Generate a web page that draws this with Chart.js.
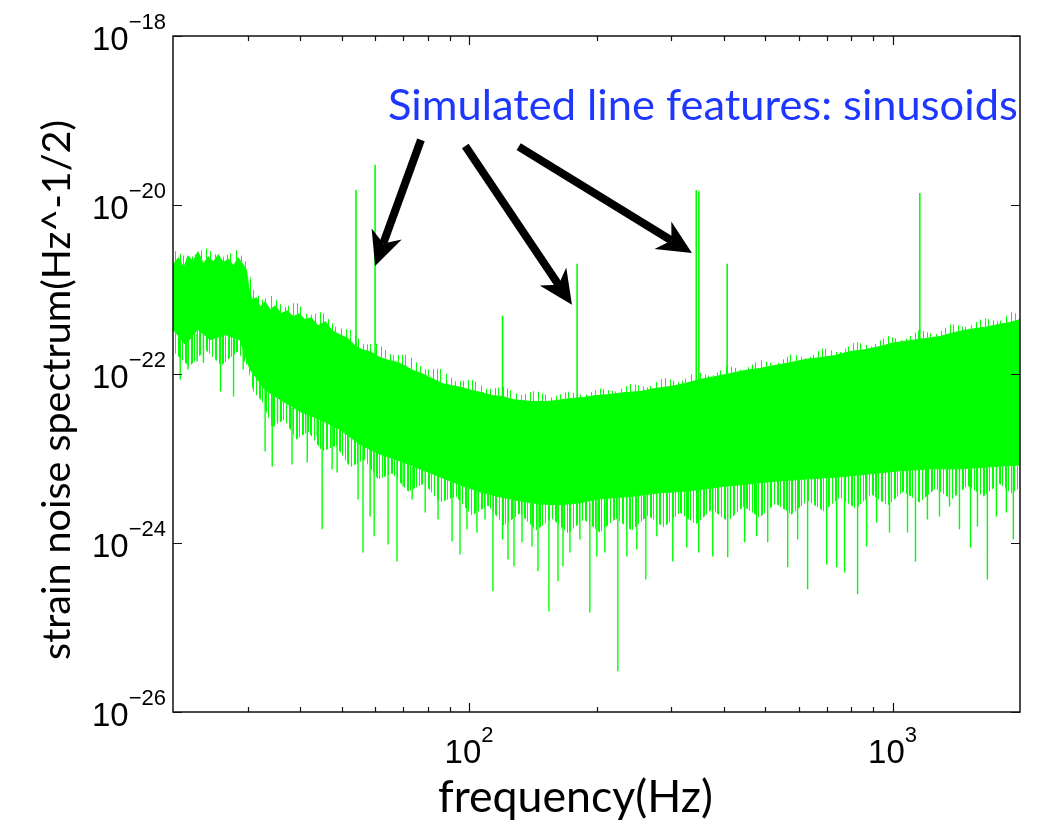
<!DOCTYPE html>
<html>
<head>
<meta charset="utf-8">
<script src="https://cdn.jsdelivr.net/npm/chart.js@4.4.1/dist/chart.umd.min.js"></script>
<style>
html, body { margin: 0; padding: 0; background: #ffffff; }
canvas { display: block; }
</style>
</head>
<body>
<canvas id="spectrumGraph" width="1049" height="822"></canvas>
<script>
// frequency in Hz, strain noise in 1/sqrt(Hz)

// top edge of the noise band
let upperFreqs = [20.0, 20.6, 21.2, 21.7, 22.3, 22.9, 23.6, 24.2, 24.9, 25.6, 26.3, 27.0, 27.8, 28.5, 29.3, 29.8, 30.3, 30.8, 31.5, 32.1,
    33.0, 33.9, 34.9, 36.0, 37.2, 38.5, 39.7, 41.0, 42.4, 44.0, 45.8, 47.5, 49.6, 51.8, 53.8, 55.9, 58.4, 61.0, 63.7, 66.9,
    70.3, 73.8, 77.5, 81.8, 86.4, 91.2, 96.3, 101.6, 107.3, 113.3, 120, 126.3, 133.4, 140.8, 151.1, 161.3, 173.1, 185.7, 199.3, 215.1,
    233.3, 253.1, 274.6, 297.9, 323.2, 350.6, 380.4, 412.6, 447.5, 485.6, 526.8, 571.7, 620.2, 672.8, 729.8, 791.8, 859.0, 931.8, 1011, 1097,
    1190, 1291, 1400, 1519, 1648, 1788, 1888, 2000];
let upperValues = [1.96e-21, 2.38e-21, 1.81e-21, 2.51e-21, 2.13e-21, 2.80e-21, 2.02e-21, 2.44e-21, 2.13e-21, 2.58e-21, 2.07e-21, 2.31e-21, 1.91e-21, 2.38e-21, 1.96e-21, 1.71e-21, 9.42e-22, 7.58e-22, 8.0e-22, 6.26e-22,
    7.17e-22, 5.77e-22, 6.43e-22, 5.18e-22, 5.61e-22, 4.77e-22, 5.18e-22, 4.40e-22, 4.64e-22, 3.73e-22, 4.16e-22, 3.26e-22, 2.92e-22, 2.62e-22, 2.17e-22, 1.94e-22, 1.84e-22, 1.61e-22, 1.48e-22, 1.40e-22,
    1.26e-22, 1.10e-22, 1.01e-22, 8.82e-23, 7.70e-23, 7.29e-23, 6.91e-23, 6.36e-23, 6.02e-23, 5.56e-23, 5.41e-23, 4.98e-23, 4.85e-23, 4.72e-23, 4.72e-23, 4.85e-23, 5.12e-23, 5.26e-23, 5.56e-23, 5.71e-23,
    6.02e-23, 6.19e-23, 6.73e-23, 7.09e-23, 7.70e-23, 8.59e-23, 9.30e-23, 1.01e-22, 1.10e-22, 1.16e-22, 1.26e-22, 1.36e-22, 1.48e-22, 1.56e-22, 1.65e-22, 1.84e-22, 1.94e-22, 2.11e-22, 2.35e-22, 2.48e-22,
    2.62e-22, 2.77e-22, 3.10e-22, 3.37e-22, 3.56e-22, 3.87e-22, 4.06e-22, 4.40e-22];

// bottom edge of the dense part of the band
let lowerFreqs = [20.0, 21.4, 22.9, 24.5, 26.6, 28.8, 30.4, 33.0, 35.8, 39.9, 44.5, 49.6, 55.3, 61.7, 68.8, 76.6, 85.4, 95.2, 106.1, 118.3,
    131.9, 147.1, 163.9, 182.7, 203.7, 239.8, 282.2, 332.1, 390.8, 459.9, 541.4, 637.3, 749.9, 882.7, 1039, 1222, 1439, 1692, 2000];
let lowerValues = [3.37e-22, 2.23e-22, 3.37e-22, 2.55e-22, 2.92e-22, 2.55e-22, 1.13e-22, 6.54e-23, 4.98e-23, 3.59e-23, 2.89e-23, 2.20e-23, 1.46e-23, 1.12e-23, 9.37e-24, 7.54e-24, 6.06e-24, 4.88e-24, 4.03e-24, 3.52e-24,
    3.15e-24, 2.90e-24, 2.83e-24, 2.99e-24, 3.33e-24, 3.55e-24, 3.92e-24, 4.14e-24, 4.62e-24, 5.01e-24, 5.44e-24, 5.74e-24, 6.06e-24, 6.58e-24, 7.14e-24, 7.54e-24, 7.54e-24, 7.96e-24, 8.40e-24];

// ragged outer edges: thin fringe below the dense part, sparse hair above the top
let edgeFreqs = [20.0, 21.86, 23.85, 26.01, 28.37, 29.95, 30.95, 32.49, 34.30, 36.62, 39.08, 41.72, 45.01, 48.57, 52.41, 56.55, 61.02, 65.84, 71.81, 78.32,
    85.42, 93.17, 101.6, 110.9, 120.9, 131.9, 143.9, 157.0, 171.2, 186.7, 203.7, 222.2, 242.3, 264.4, 288.4, 314.5, 343.1, 374.2, 408.2, 445.2,
    485.6, 529.7, 577.8, 630.3, 687.6, 749.9, 817.9, 892.1, 973.2, 1061, 1158, 1263, 1378, 1503, 1639, 1788, 1909, 2000];
let fringeValues = [1.84e-22, 1.22e-22, 1.94e-22, 1.26e-22, 1.84e-22, 1.26e-22, 6.19e-23, 4.72e-23, 2.32e-23, 2.89e-23, 1.68e-23, 2.09e-23, 1.21e-23, 1.42e-23, 7.82e-24, 9.73e-24, 5.65e-24, 6.65e-24, 4.07e-24, 5.06e-24,
    3.02e-24, 3.56e-24, 2.12e-24, 2.78e-24, 1.61e-24, 2.24e-24, 1.41e-24, 1.95e-24, 1.30e-24, 1.90e-24, 1.33e-24, 1.95e-24, 1.41e-24, 2.12e-24, 1.53e-24, 2.30e-24, 1.66e-24, 2.49e-24, 1.80e-24, 2.71e-24,
    2.01e-24, 2.94e-24, 2.18e-24, 3.19e-24, 2.36e-24, 3.46e-24, 2.56e-24, 3.75e-24, 2.78e-24, 4.07e-24, 3.02e-24, 4.42e-24, 3.28e-24, 4.80e-24, 3.56e-24, 5.06e-24, 3.86e-24, 4.54e-24];
let hairValues = [2.95e-21, 2.31e-21, 3.12e-21, 2.38e-21, 2.95e-21, 2.02e-21, 9.95e-22, 7.58e-22, 8.45e-22, 6.09e-22, 7.17e-22, 4.90e-22, 5.46e-22, 3.54e-22, 3.35e-22, 2.23e-22, 2.29e-22, 1.65e-22, 1.70e-22, 1.13e-22,
    1.16e-22, 8.13e-23, 8.59e-23, 6.54e-23, 7.10e-23, 5.56e-23, 6.36e-23, 5.26e-23, 6.19e-23, 5.56e-23, 6.72e-23, 6.19e-23, 7.70e-23, 6.91e-23, 9.07e-23, 7.91e-23, 1.07e-22, 9.32e-23, 1.26e-22, 1.10e-22,
    1.48e-22, 1.29e-22, 1.74e-22, 1.52e-22, 2.05e-22, 1.79e-22, 2.42e-22, 2.11e-22, 2.84e-22, 2.48e-22, 3.35e-22, 2.92e-22, 3.94e-22, 3.54e-22, 4.64e-22, 4.16e-22, 5.47e-22, 5.04e-22];

// downward noise dips below the band
let dipFreqs = [20.8, 21.7, 22.8, 23.6, 25.9, 27.8, 29.3, 33.0, 34.3, 35.3, 38.2, 41.5, 43.8, 45.0, 47.5, 48.8, 54.7, 56.2, 58.4, 59.7,
    64.4, 67.6, 69.9, 73.4, 78.8, 84.5, 91.2, 95.2, 98.9, 104.4, 109.1, 113.9, 120, 123.6, 127.7, 133.4, 140.8, 145.5, 154.4, 162.2,
    166.7, 173.1, 182.7, 192.9, 200.4, 209.3, 224.6, 235.9, 249.0, 261.5, 277.6, 302.8, 326.7, 348.7, 376.3, 408.2, 447.5, 477.7, 507.3, 565.5,
    597.0, 630.3, 698.9, 737.9, 770.5, 827.1, 868.5, 917.0, 983.8, 1085, 1133, 1209, 1291, 1363, 1439, 1528, 1587, 1675, 1759, 1857, 1929];
let dipTops = [3e-22, 3e-22, 3e-22, 3e-22, 3e-22, 3e-22, 3e-22, 7e-23, 6e-23, 5e-23, 4e-23, 3.5e-23, 3e-23, 3e-23, 2.5e-23, 2.2e-23, 1.5e-23, 1.4e-23, 1.3e-23, 1.2e-23,
    1.1e-23, 1e-23, 9e-24, 8e-24, 7.5e-24, 6e-24, 5.5e-24, 5e-24, 5e-24, 4.5e-24, 4e-24, 4e-24, 3.5e-24, 3.5e-24, 3.5e-24, 3.2e-24, 3.2e-24, 3e-24, 3e-24, 3e-24,
    3e-24, 3e-24, 3e-24, 3e-24, 3.3e-24, 3.3e-24, 3.4e-24, 3.5e-24, 3.6e-24, 3.7e-24, 3.9e-24, 4e-24, 4.1e-24, 4.3e-24, 4.5e-24, 4.7e-24, 5e-24, 5e-24, 5.2e-24, 5.5e-24,
    5.6e-24, 5.7e-24, 5.9e-24, 6e-24, 6.1e-24, 6.3e-24, 6.5e-24, 6.7e-24, 7e-24, 7.2e-24, 7.3e-24, 7.5e-24, 7.5e-24, 7.5e-24, 7.5e-24, 7.6e-24, 7.7e-24, 8e-24, 8e-24, 8.2e-24, 8.3e-24];
let dipLows = [8.59e-23, 1.13e-22, 1.40e-22, 1.36e-22, 6.19e-23, 5.41e-23, 1.13e-22, 1.21e-23, 8.04e-24, 2.74e-23, 8.49e-24, 8.97e-24, 1.82e-23, 1.45e-24, 7.41e-24, 6.83e-24, 3.28e-24, 7.74e-25, 2.06e-24, 1.20e-24,
    9.63e-25, 6.06e-25, 4.67e-24, 3.28e-24, 2.30e-24, 1.90e-24, 1.04e-24, 7.33e-25, 1.45e-24, 1.33e-24, 1.90e-24, 2.68e-25, 1.10e-24, 6.40e-25, 5.29e-25, 1.02e-24, 9.12e-25, 4.62e-25, 1.55e-25, 3.52e-25,
    5.29e-25, 7.74e-25, 1.10e-24, 1.51e-25, 6.94e-25, 7.74e-25, 3.04e-26, 6.94e-25, 8.40e-25, 3.71e-25, 1.20e-24, 6.06e-25, 8.87e-25, 7.74e-25, 6.94e-25, 6.76e-25, 1.02e-24, 1.20e-24, 1.02e-24, 5.15e-25,
    1.10e-24, 2.83e-25, 5.58e-25, 5.15e-25, 4.49e-25, 2.47e-25, 9.12e-25, 1.75e-24, 1.33e-24, 1.33e-24, 6.06e-25, 1.90e-24, 2.06e-24, 2.71e-24, 1.45e-24, 8.87e-25, 1.57e-24, 3.71e-25, 2.06e-24, 2.30e-24, 1.10e-24];

// simulated sinusoid line features
let lineFreqs = [54.1, 60, 120, 180, 344, 349, 407, 1160];
let lineTops = [1.51e-20, 2.99e-20, 4.90e-22, 2.02e-21, 1.51e-20, 1.45e-20, 2.02e-21, 1.39e-20];
let lineBases = [3e-23, 3e-23, 1e-23, 1e-23, 1e-23, 1e-23, 1e-23, 2e-23];

// axes
let xMajorTicks = [100, 1000];
let xMinorTicks = [30, 40, 50, 60, 70, 80, 90, 200, 300, 400, 500, 600, 700, 800, 900];
let yMajorTicks = [1e-26, 1e-24, 1e-22, 1e-20, 1e-18];

// annotation: arrows from the caption to the lines (Hz, strain)
let annotationText = "Simulated line features: sinusoids";
let arrowTails = [[77, 5.9e-20], [98, 5.0e-20], [131, 4.9e-20]];
let arrowTips = [[60, 1.9e-21], [175, 6.6e-22], [336, 2.7e-21]];

let green = "rgb(0, 255, 0)";

/////////// DATASETS /////////////

function pairs(freqs, values) {
    return freqs.map((f, i) => ({ x: f, y: values[i] }));
}

let bandPoints = pairs(upperFreqs, upperValues).concat(pairs(lowerFreqs, lowerValues).reverse());
let fringePoints = pairs(lowerFreqs, lowerValues).concat(pairs(edgeFreqs, fringeValues).reverse());
let hairPoints = pairs(edgeFreqs, hairValues).concat(pairs(upperFreqs, upperValues).reverse());

let dipPoints = [];
dipFreqs.forEach((f, i) => {
    dipPoints.push({ x: f, y: dipTops[i] }, { x: f, y: dipLows[i] }, { x: f, y: null });
});

let linePoints = [];
lineFreqs.forEach((f, i) => {
    linePoints.push({ x: f, y: lineBases[i] }, { x: f, y: lineTops[i] }, { x: f, y: null });
});

// vertical stripe textures for the ragged noise edges
function stripes(columns, width) {
    let c = document.createElement("canvas");
    c.width = width;
    c.height = 4;
    let g = c.getContext("2d");
    g.fillStyle = green;
    columns.forEach(col => g.fillRect(col, 0, 1, 4));
    return g.createPattern(c, "repeat");
}
let fringeTexture = stripes([0, 1, 3, 6, 7, 9, 12, 14, 15, 18, 21, 22, 24, 27, 30, 31, 34], 37);
let hairTexture = stripes([0, 5, 8, 13, 17, 20, 26, 31], 35);

/////////// AXES + TEXT PLUGIN /////////////

let tickFont = "'Liberation Sans', Arial, Helvetica, sans-serif";
let titleFont = "Lato, 'Open Sans', sans-serif";

function drawPower(ctx, exponent, x, baseline, align) {
    ctx.font = "33px " + tickFont;
    let wBase = ctx.measureText("10").width;
    ctx.font = "22px " + tickFont;
    let wExp = ctx.measureText(exponent).width;
    let start = align === "center" ? x - (wBase + wExp) / 2 : x - wBase - wExp;
    ctx.textAlign = "left";
    ctx.textBaseline = "alphabetic";
    ctx.font = "33px " + tickFont;
    ctx.fillText("10", start, baseline);
    ctx.font = "22px " + tickFont;
    ctx.fillText(exponent, start + wBase, baseline - 21);
}

function fitFont(ctx, text, width, family) {
    ctx.font = "100px " + family;
    return 100 * width / ctx.measureText(text).width;
}

function drawArrow(ctx, x0, y0, x1, y1) {
    let ang = Math.atan2(y1 - y0, x1 - x0);
    let c = Math.cos(ang), s = Math.sin(ang);
    let headLen = 34, headW = 16, notch = 10;
    let bx = x1 - headLen * c, by = y1 - headLen * s;
    ctx.lineWidth = 8;
    ctx.lineCap = "butt";
    ctx.beginPath();
    ctx.moveTo(x0, y0);
    ctx.lineTo(x1 - (headLen - notch) * c, y1 - (headLen - notch) * s);
    ctx.stroke();
    ctx.beginPath();
    ctx.moveTo(x1, y1);
    ctx.lineTo(bx - headW * s, by + headW * c);
    ctx.lineTo(x1 - (headLen - notch) * c, y1 - (headLen - notch) * s);
    ctx.lineTo(bx + headW * s, by - headW * c);
    ctx.closePath();
    ctx.fill();
}

let axesBox = {
    id: "axesBox",
    afterDraw(chart) {
        let { ctx, chartArea: a, scales: { x, y } } = chart;
        ctx.save();
        ctx.strokeStyle = "#111111";
        ctx.fillStyle = "#000000";
        ctx.lineWidth = 1.5;
        ctx.strokeRect(a.left, a.top, a.right - a.left, a.bottom - a.top);

        // ticks pointing inward, on all four sides
        ctx.lineWidth = 1.2;
        ctx.beginPath();
        xMinorTicks.concat(xMajorTicks).forEach(v => {
            let px = Math.round(x.getPixelForValue(v)) + 0.5;
            let len = xMajorTicks.includes(v) ? 9 : 5;
            ctx.moveTo(px, a.bottom); ctx.lineTo(px, a.bottom - len);
            ctx.moveTo(px, a.top); ctx.lineTo(px, a.top + len);
        });
        yMajorTicks.forEach(v => {
            let py = Math.round(y.getPixelForValue(v)) + 0.5;
            ctx.moveTo(a.left, py); ctx.lineTo(a.left + 9, py);
            ctx.moveTo(a.right, py); ctx.lineTo(a.right - 9, py);
        });
        ctx.stroke();

        // tick labels as 10^n
        xMajorTicks.forEach(v => {
            drawPower(ctx, String(Math.round(Math.log10(v))), x.getPixelForValue(v), a.bottom + 51, "center");
        });
        yMajorTicks.forEach(v => {
            let e = Math.round(Math.log10(v));
            drawPower(ctx, "\u2212" + Math.abs(e), a.left - 7, y.getPixelForValue(v) + 14, "right");
        });

        // axis titles
        ctx.fillStyle = "#000000";
        ctx.textAlign = "center";
        ctx.textBaseline = "alphabetic";
        let xTitle = "frequency(Hz)";
        ctx.font = fitFont(ctx, xTitle, 275, titleFont) + "px " + titleFont;
        ctx.fillText(xTitle, (a.left + a.right) / 2 - 21, a.bottom + 100);

        let yTitle = "strain noise spectrum(Hz^-1/2)";
        ctx.save();
        ctx.translate(a.left - 103, (a.top + a.bottom) / 2 + 16);
        ctx.rotate(-Math.PI / 2);
        ctx.font = fitFont(ctx, yTitle, 540, titleFont) + "px " + titleFont;
        ctx.fillText(yTitle, 0, 0);
        ctx.restore();

        // caption and arrows
        ctx.fillStyle = "rgb(30, 55, 255)";
        ctx.textAlign = "left";
        ctx.font = fitFont(ctx, annotationText, 630, titleFont) + "px " + titleFont;
        ctx.fillText(annotationText, a.left + 215, a.top + 84);

        ctx.fillStyle = "#000000";
        ctx.strokeStyle = "#000000";
        arrowTips.forEach((tip, i) => {
            let tail = arrowTails[i];
            drawArrow(ctx, x.getPixelForValue(tail[0]), y.getPixelForValue(tail[1]),
                x.getPixelForValue(tip[0]), y.getPixelForValue(tip[1]));
        });
        ctx.restore();
    },
};

/////////// SPECTRUM GRAPH /////////////

let spectrumGraphE = document.getElementById("spectrumGraph");

let spectrumGraph = new Chart(spectrumGraphE, {
    type: "scatter",
    plugins: [axesBox],
    data: {
        datasets: [
            {
                data: hairPoints,
                showLine: true,
                fill: "shape",
                backgroundColor: hairTexture,
                borderWidth: 0,
                pointRadius: 0,
            },
            {
                data: fringePoints,
                showLine: true,
                fill: "shape",
                backgroundColor: fringeTexture,
                borderWidth: 0,
                pointRadius: 0,
            },
            {
                data: bandPoints,
                showLine: true,
                fill: "shape",
                backgroundColor: green,
                borderColor: green,
                borderWidth: 1,
                pointRadius: 0,
            },
            {
                data: dipPoints,
                showLine: true,
                spanGaps: false,
                borderColor: green,
                borderWidth: 1.4,
                pointRadius: 0,
            },
            {
                data: linePoints,
                showLine: true,
                spanGaps: false,
                borderColor: green,
                borderWidth: 1.6,
                pointRadius: 0,
            },
        ],
    },
    options: {
        responsive: false,
        animation: false,
        devicePixelRatio: 1,
        layout: {
            padding: { left: 173, top: 36, right: 29, bottom: 110 },
        },
        scales: {
            x: { type: "logarithmic", min: 20, max: 2000, display: false },
            y: { type: "logarithmic", min: 1e-26, max: 1e-18, display: false },
        },
        plugins: {
            legend: { display: false },
            tooltip: { enabled: false },
        },
    },
});
</script>
</body>
</html>
